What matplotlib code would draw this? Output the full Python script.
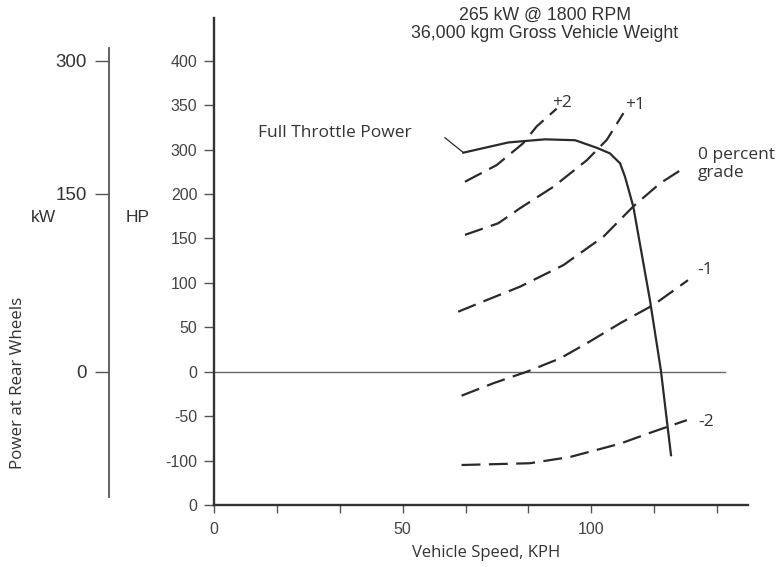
import numpy as np
import matplotlib
matplotlib.use("Agg")
import matplotlib.pyplot as plt

# ---------------- data (speed in KPH, power in HP-label units) ----------------
speed_full = [66.1, 78.0, 87.7, 95.7, 101.4, 104.9, 107.6, 108.9, 111.1, 115.5, 118.4, 121.1]
hp_full = [293, 308, 311.5, 310.5, 302, 291.5, 269, 239, 186, 81, 2, -94]

speed_p2 = [66.5, 74.9, 81.9, 85.5, 90.8]
hp_p2 = [227.6, 265, 307, 326, 346]

speed_p1 = [66.5, 75.3, 81.1, 89.9, 98.8, 104.1, 108.5]
hp_p1 = [154, 167, 184, 216, 276, 311, 341]

speed_0 = [64.7, 72.3, 81.1, 92.6, 103.2, 111.1, 118.2, 124.8]
hp_0 = [67.5, 80.7, 95.7, 120, 152, 186, 224, 260]

speed_m1 = [65.6, 74.0, 82.9, 91.7, 98.8, 107.6, 116.4, 125.6]
hp_m1 = [-27, -13, 0, 15, 32, 54.5, 75, 103]

speed_m2 = [65.6, 83.7, 94.3, 107.6, 116.4, 125.3]
hp_m2 = [-105, -103, -96, -81, -67.5, -54.5]

hp_ticks = [-150, -100, -50, 0, 50, 100, 150, 200, 300, 350, 400]
hp_tick_labels = ["0", "-100", "-50", "0", "50", "100", "150", "200", "300", "350", "400"]
kw_ticks = [0, 200, 400]
kw_tick_labels = ["0", "150", "300"]
x_ticks = [0, 50/3, 100/3, 50, 200/3, 250/3, 100, 350/3, 400/3]
x_tick_labels = ["0", "", "", "50", "", "", "100", "", ""]

grade_labels = ["+2", "+1", "0 percent\ngrade", "-1", "-2"]


# piecewise scale of the printed HP axis
def fwd(h):
    h = np.asarray(h, float)
    return np.where(h <= 200, h, np.where(h <= 300, 200 + (h - 200) / 2, h - 50))


def inv(p):
    p = np.asarray(p, float)
    return np.where(p <= 200, p, np.where(p <= 250, 200 + 2 * (p - 200), p + 50))


W, H = 781, 567
fig = plt.figure(figsize=(W / 100, H / 100), dpi=100)

TICKFONT = ["Liberation Sans", "DejaVu Sans"]
ANNFONT = ["Open Sans", "DejaVu Sans"]
DARK = "#2a2a2a"
GREY = "#444444"
ANN = 12.5

ax = fig.add_axes([214 / W, (H - 505) / H, 534 / W, 486.7 / H])
ax.set_yscale("function", functions=(fwd, inv))
ax.set_xlim(0, 141.5)
ax.set_ylim(-150, 447.7)

for s in ["top", "right"]:
    ax.spines[s].set_visible(False)
for s in ["left", "bottom"]:
    ax.spines[s].set_linewidth(1.7)
    ax.spines[s].set_color("#333333")

ax.set_yticks(hp_ticks)
ax.set_yticklabels(hp_tick_labels)
ax.set_xticks(x_ticks)
ax.set_xticklabels(x_tick_labels)
ax.minorticks_off()
ax.tick_params(axis="y", direction="out", length=7, width=1, color="#555555",
               pad=5, labelsize=11.5, labelcolor=GREY)
ax.tick_params(axis="x", direction="out", length=6, width=1, color="#555555",
               pad=6, labelsize=11.5, labelcolor=GREY)
for lab in ax.get_xticklabels() + ax.get_yticklabels():
    lab.set_fontfamily(TICKFONT)

# zero line
ax.axhline(0, xmin=0, xmax=0.957, color="#6a6a6a", lw=1.0)

dash = (8.5, 3.8)
for xs, ys in [(speed_p2, hp_p2), (speed_p1, hp_p1), (speed_0, hp_0),
               (speed_m1, hp_m1), (speed_m2, hp_m2)]:
    ax.plot(xs, ys, color=DARK, lw=1.6, dashes=dash, solid_capstyle="butt",
            dash_capstyle="butt")

ax.plot(speed_full, hp_full, color=DARK, lw=1.6, solid_joinstyle="round")

# leader line for the full throttle label
ax.plot([61.2, speed_full[0]], [313.3, hp_full[0]], color=DARK, lw=0.9)
ax.text(11.7, 318.5, "Full Throttle Power", fontsize=ANN, family=ANNFONT,
        color="#333333", ha="left", va="center")

# grade labels
lab_pos = [(92.3, 352.8, "center"), (111.6, 350, "center"), (128.2, 267.5, "left"),
           (130.1, 114.4, "center"), (130.4, -56.3, "center")]
for (lx, ly, ha), txt in zip(lab_pos, grade_labels):
    ax.text(lx, ly, txt, fontsize=ANN, family=ANNFONT, color="#333333",
            ha=ha, va="center", linespacing=1.1)

# kW scale
axk = fig.add_axes([109 / W, (H - 497) / H, 0.0005, 449 / H])
axk.set_yscale("function", functions=(fwd, inv))
axk.set_ylim(-141, 414.3)
axk.patch.set_visible(False)
for s in ["top", "right", "bottom"]:
    axk.spines[s].set_visible(False)
axk.spines["left"].set_linewidth(1.3)
axk.spines["left"].set_color("#555555")
axk.set_xticks([])
axk.set_yticks(kw_ticks)
axk.set_yticklabels(kw_tick_labels)
axk.minorticks_off()
axk.tick_params(axis="y", direction="out", length=10, width=1, color="#555555",
                pad=6, labelsize=13.5, labelcolor="#333333")
for lab in axk.get_yticklabels():
    lab.set_fontfamily(TICKFONT)

# labels
fig.text(43 / W, 1 - 218 / H, "kW", fontsize=12.5, family=TICKFONT, color="#333333",
         ha="center", va="center")
fig.text(138 / W, 1 - 218 / H, "HP", fontsize=12.5, family=TICKFONT, color="#333333",
         ha="center", va="center")
fig.text(18 / W, 1 - 383 / H, "Power at Rear Wheels", fontsize=12.2, family=ANNFONT,
         color="#333333", ha="center", va="center", rotation=90)
fig.text(486 / W, 1 - 553 / H, "Vehicle Speed, KPH", fontsize=12, family=ANNFONT,
         color="#333333", ha="center", va="center")
fig.text(545 / W, 1 - 15 / H, "265 kW @ 1800 RPM", fontsize=12.8, family=TICKFONT,
         color="#333333", ha="center", va="center")
fig.text(545 / W, 1 - 33 / H, "36,000 kgm Gross Vehicle Weight", fontsize=12.8,
         family=TICKFONT, color="#333333", ha="center", va="center")

fig.savefig("out.png", dpi=100)
